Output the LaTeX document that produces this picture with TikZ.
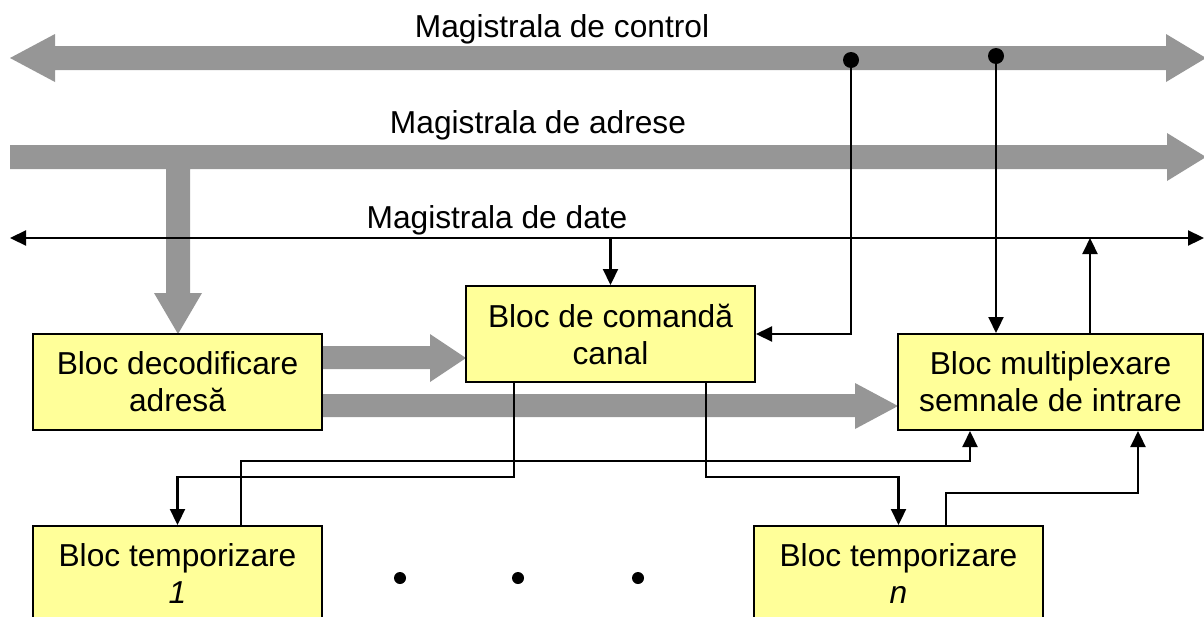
\documentclass[tikz,border=0pt]{standalone}
\usepackage{fontspec}
\setmainfont{Liberation Sans}
\usetikzlibrary{arrows.meta}
\definecolor{busgray}{RGB}{150,150,150}
\definecolor{boxyellow}{RGB}{255,255,153}
\begin{document}
\begin{tikzpicture}[x=1pt,y=-1pt,
  box/.style={draw=black,line width=2pt,fill=boxyellow,minimum width=289pt,minimum height=96pt,inner sep=0pt,align=center,font=\fontsize{31.7pt}{37pt}\selectfont},
  lbl/.style={anchor=base,inner sep=0pt,font=\fontsize{31.7pt}{37pt}\selectfont},
  wire/.style={line width=2.2pt},
  arr/.style={wire,-{Triangle[length=16pt,width=15pt]}},
  dbl/.style={wire,{Triangle[length=16pt,width=15pt]}-{Triangle[length=16pt,width=15pt]}},
  bus/.style={fill=busgray,draw=none}]
\useasboundingbox (0,0) rectangle (1204,616);
% buses
\fill[bus] (10,58) -- (55,34) -- (55,46) -- (1166,46) -- (1166,34) -- (1206,58) -- (1166,82) -- (1166,70) -- (55,70) -- (55,82) -- cycle;
\fill[bus] (10,145) -- (1167,145) -- (1167,133) -- (1206,157) -- (1167,181) -- (1167,169) -- (190,169) -- (190,293) -- (202,293) -- (178,334) -- (154,293) -- (166,293) -- (166,169) -- (10,169) -- cycle;
\fill[bus] (322,346) -- (430,346) -- (430,334) -- (466,358) -- (430,382) -- (430,369) -- (322,369) -- cycle;
\fill[bus] (322,394) -- (855,394) -- (855,383) -- (898,406) -- (855,429) -- (855,417) -- (322,417) -- cycle;
% data bus
\coordinate (dl) at (10,238);
\coordinate (dr) at (1204,238);
\draw[dbl] (dl) -- (dr);
% labels
\node[lbl] (lc) at (562,37) {Magistrala de control};
\node[lbl] (la) at (538,133) {Magistrala de adrese};
\node[lbl] (ld) at (497,228) {Magistrala de date};
% boxes
\node[box] (dec) at (177.5,382) {Bloc decodificare\\adresă};
\node[box] (cmd) at (610.5,334) {Bloc de comandă\\canal};
\node[box,minimum width=305pt] (mux) at (1050.5,382) {Bloc multiplexare\\semnale de intrare};
\node[box] (t1) at (177.5,574) {Bloc temporizare\\\textit{1}};
\node[box] (tn) at (898.5,574) {Bloc temporizare\\\textit{n}};
% control taps
\coordinate (c1) at (851,60);
\coordinate (c2) at (996,56);
\coordinate (d1) at (610.5,238);
\coordinate (d2) at (1090,238);
\draw[arr] (c1) |- (cmd.east);
\draw[arr] (c2) -- (c2 |- mux.north);
\draw[arr] (d1) -- (cmd.north);
\draw[arr] (1090,0 |- mux.north) -- (d2);
\fill (c1) circle (8pt);
\fill (c2) circle (8pt);
% timing connections
\draw[arr] (514,0 |- cmd.south) -- (514,477) -| (t1.north);
\draw[arr] (241,0 |- t1.north) |- (970,461) -- (970,0 |- mux.south);
\draw[arr] (706,0 |- cmd.south) -- (706,477) -| (tn.north);
\draw[arr] (946,0 |- tn.north) |- (1138,493) -- (1138,0 |- mux.south);
% ellipsis
\coordinate (e1) at (400,578);
\coordinate (e2) at (518,578);
\coordinate (e3) at (638,578);
\fill (e1) circle (6pt);
\fill (e2) circle (6pt);
\fill (e3) circle (6pt);
\end{tikzpicture}
\end{document}
